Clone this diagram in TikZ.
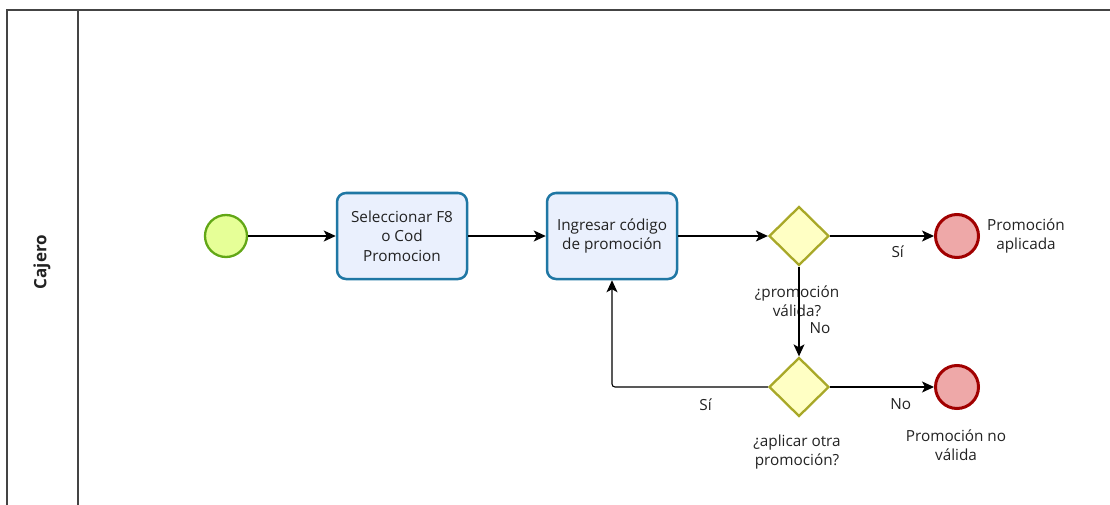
\documentclass[tikz,border=0pt]{standalone}
\usepackage{fontspec}
\setmainfont{Open Sans}
\usetikzlibrary{shapes.geometric,arrows.meta}
\definecolor{taskfill}{HTML}{EAF0FD}
\definecolor{taskline}{HTML}{1F77A4}
\definecolor{startfill}{HTML}{E6FF97}
\definecolor{startline}{HTML}{62A716}
\definecolor{endfill}{HTML}{EEA8A8}
\definecolor{endline}{HTML}{A10000}
\definecolor{gwfill}{HTML}{FFFFC4}
\definecolor{gwline}{HTML}{A8A828}
\definecolor{poolline}{HTML}{444444}
\definecolor{txt}{HTML}{222222}
\begin{document}
\begin{tikzpicture}[x=1pt,y=-1pt,
  every node/.style={font=\fontsize{15.3}{19.5}\selectfont, text=txt},
  task/.style={rectangle, rounded corners=9pt, draw=taskline, fill=taskfill,
    line width=2.5pt, minimum width=130pt, minimum height=86pt, align=center, inner sep=2pt},
  startev/.style={circle, draw=startline, fill=startfill, line width=2.3pt,
    minimum size=42pt, inner sep=0pt},
  endev/.style={circle, draw=endline, fill=endfill, line width=3pt,
    minimum size=43pt, inner sep=0pt},
  gateway/.style={diamond, draw=gwline, fill=gwfill, line width=2.3pt,
    minimum width=60pt, minimum height=59pt, inner sep=0pt},
  flow/.style={draw=black, line width=1.1pt, -{Stealth[length=12pt,width=11pt,inset=3pt]}},
  lbl/.style={align=center, inner sep=0pt},
  pool/.style={draw=poolline, line width=1.8pt}
]
\useasboundingbox (0,0) rectangle (1110,505);

% pool and lane header
\draw[pool] (7,510) -- (7,10) -- (1115,10);
\draw[pool] (78,10) -- (78,510);
\node[rotate=90, font=\fontsize{17}{20}\selectfont\bfseries] (lane) at (42,262) {Cajero};

% flow objects
\node[startev] (start) at (226,236) {};
\node[task] (t1) at (402,236) {Seleccionar F8\\o Cod\\Promocion};
\node[task] (t2) at (612,236) {Ingresar código\\de promoción};
\node[gateway] (g1) at (799,236) {};
\node[gateway] (g2) at (799,387) {};
\node[endev] (e1) at (957,236) {};
\node[endev] (e2) at (957,387) {};

% element labels
\node[lbl] (g1lbl) at (797,301) {¿promoción\\válida?};
\node[lbl] (g2lbl) at (797,452) {¿aplicar otra\\promoción?};
\node[lbl] (e1lbl) at (1026,236) {Promoción\\aplicada};
\node[lbl] (e2lbl) at (956,445) {Promoción no\\válida};

% sequence flows
\draw[flow] (start) -- (t1);
\draw[flow] (t1) -- (t2);
\draw[flow] (t2) -- (g1);
\draw[flow] (g1) -- node[lbl, pos=0.65, below=9pt] (ls1) {Sí} (e1);
\draw[flow] (g1) -- node[lbl, pos=0.68, right=10pt] (ln1) {No} (g2);
\draw[flow] (g2) -- node[lbl, pos=0.68, below=11pt] (ln2) {No} (e2);
\draw[flow, rounded corners=3pt] (g2) -| node[lbl, pos=0.20, below=11pt] (ls2) {Sí} (t2);
\end{tikzpicture}
\end{document}
